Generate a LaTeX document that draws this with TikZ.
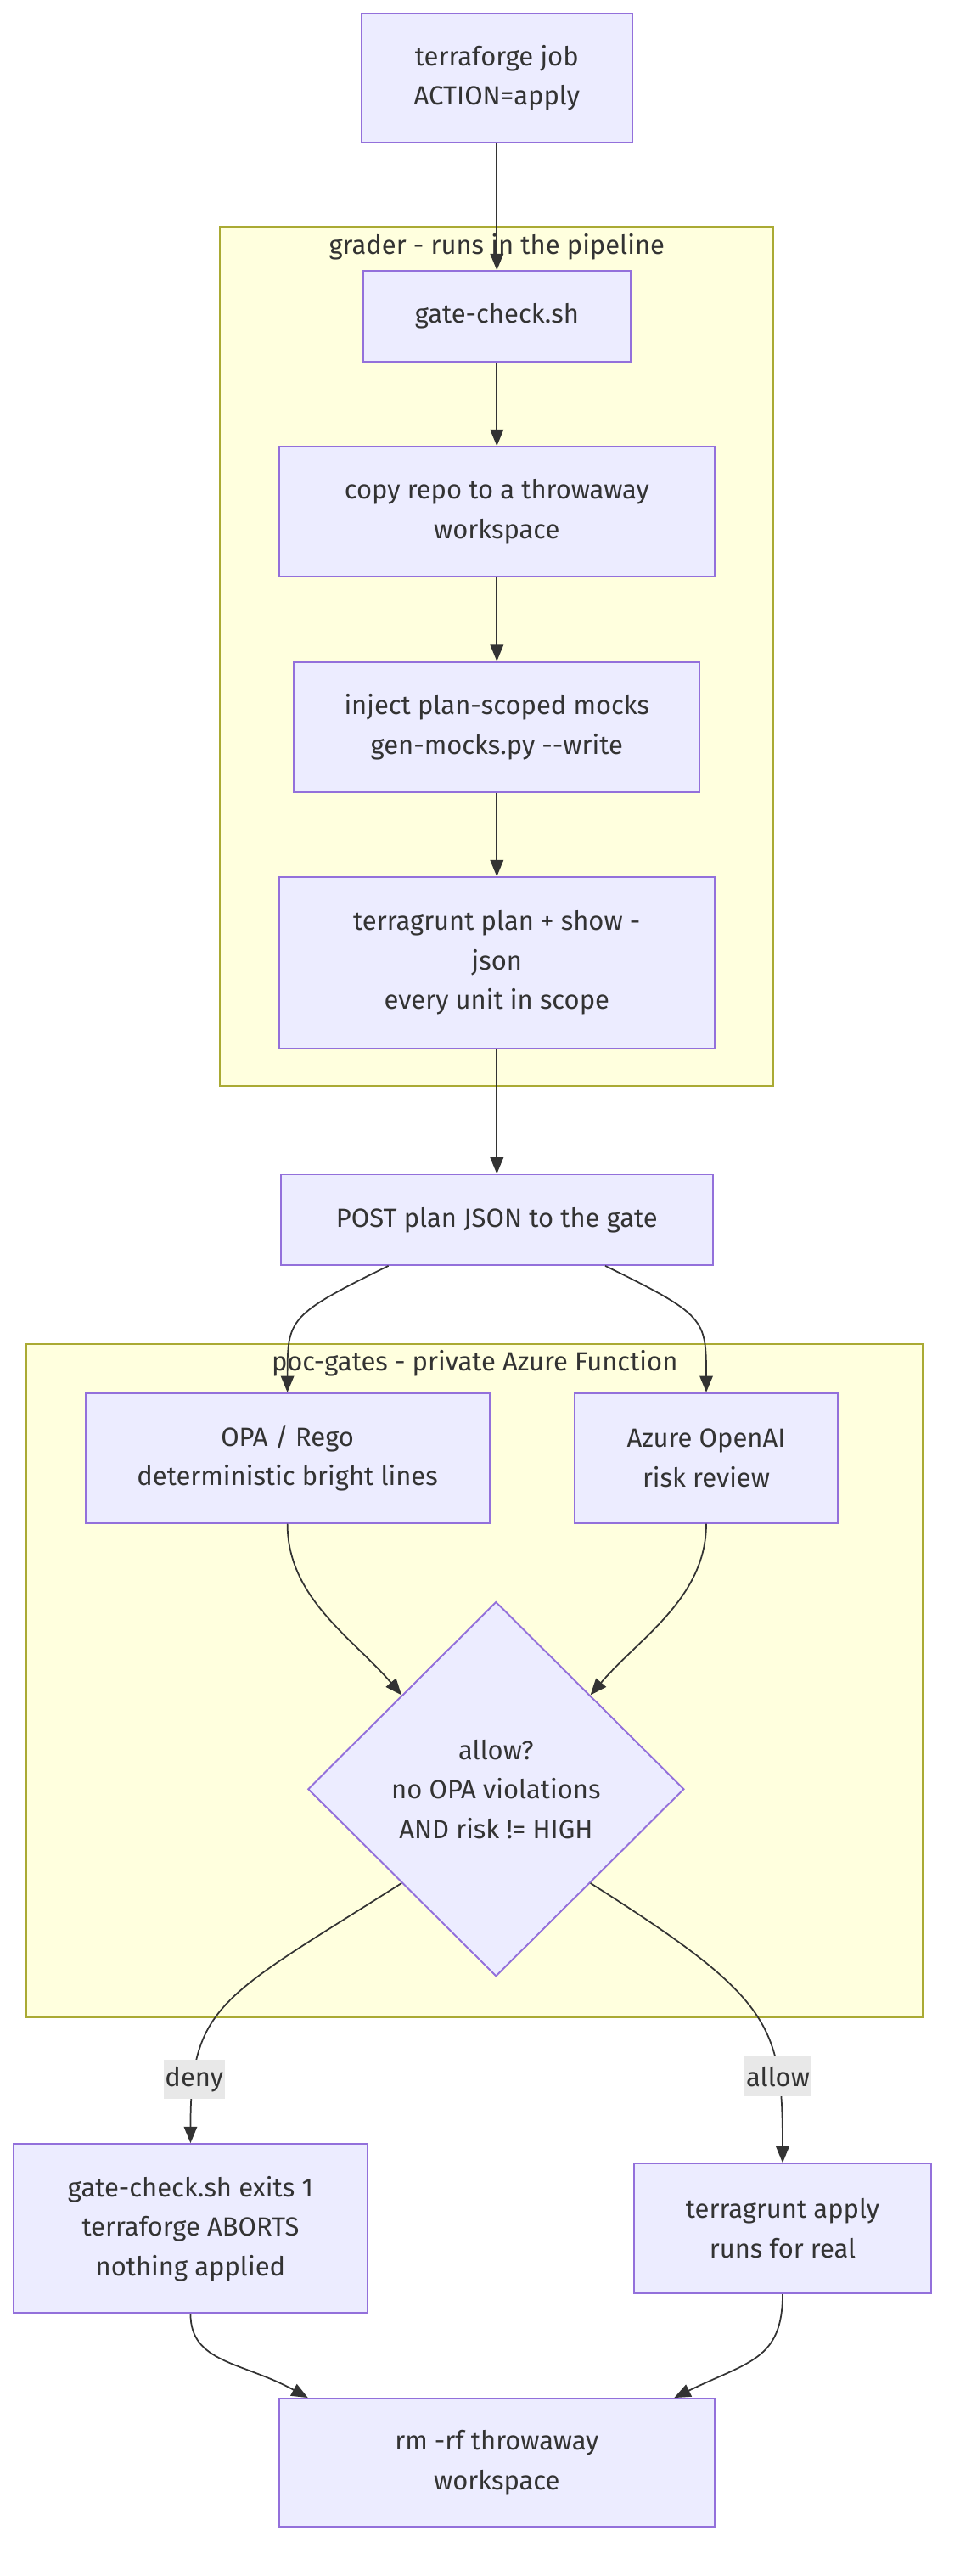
\documentclass[tikz,border=0pt]{standalone}
\usepackage{fontspec}
\setmainfont{Fira Sans}
\usetikzlibrary{positioning, arrows.meta, shapes.geometric, calc}

\definecolor{boxfill}{HTML}{ECECFF}
\definecolor{boxline}{HTML}{9370DB}
\definecolor{clusterfill}{HTML}{FFFFDE}
\definecolor{clusterline}{HTML}{AAAA33}
\definecolor{ink}{HTML}{333333}
\definecolor{lblfill}{HTML}{E8E8E8}

\begin{document}
\begin{tikzpicture}[x=1pt, y=1pt, >={Triangle[length=10pt, width=8pt]},
    font=\fontsize{16}{24}\selectfont, text=ink,
    box/.style={draw=boxline, fill=boxfill, line width=1pt, align=center, minimum height=79pt, inner sep=0pt},
    decide/.style={diamond, aspect=1, draw=boxline, fill=boxfill, line width=1pt, align=center, minimum width=229pt, minimum height=228pt, inner sep=0pt},
    cluster/.style={draw=clusterline, fill=clusterfill, line width=1pt},
    lbl/.style={fill=lblfill, inner xsep=1pt, inner ysep=0pt, minimum height=24pt},
    flow/.style={->, draw=ink, line width=0.9pt}]
    \useasboundingbox (0,0) rectangle (584,-1568);

    % the two subgraphs
    \draw[cluster] (134,-138) rectangle (471,-661);
    \node (gradertitle) at (302.5,-150) {grader - runs in the pipeline};
    \draw[cluster] (16,-818) rectangle (562,-1228);
    \node (pocttitle) at (289,-830) {poc-gates - private Azure Function};

    \node[box, minimum width=165pt] (job) at (302.5,-47.5) {terraforge job\\ACTION=apply};
    \node[box, minimum width=163pt, minimum height=55pt, below=77pt of job] (gate) {gate-check.sh};
    \node[box, minimum width=265pt, below=51pt of gate] (copy) {copy repo to a throwaway\\workspace};
    \node[box, minimum width=247pt, below=51pt of copy] (inject) {inject plan-scoped mocks\\gen-mocks.py -{}-write};
    \node[box, minimum width=265pt, minimum height=104pt, below=51pt of inject] (plan) {terragrunt plan + show -\\json\\every unit in scope};
    \node[box, minimum width=263pt, minimum height=55pt, below=76pt of plan] (post) {POST plan JSON to the gate};

    \node[box, minimum width=246pt, below=77pt of post, xshift=-127.5pt] (opa) {OPA / Rego\\deterministic bright lines};
    \node[box, minimum width=160pt, right=51pt of opa] (aoai) {Azure OpenAI\\risk review};
    \node[decide] (allow) at (302,-1089) {allow?\\no OPA violations\\AND risk != HIGH};

    \node[box, minimum width=216pt, minimum height=103pt] (deny) at (116,-1356.5) {gate-check.sh exits 1\\terraforge ABORTS\\nothing applied};
    \node[box, minimum width=181pt] (apply) at (476.5,-1356.5) {terragrunt apply\\runs for real};
    \node[box, minimum width=265pt, minimum height=78pt] (cleanup) at (302.5,-1499) {rm -rf throwaway\\workspace};

    \path (job) edge[flow] (gate)
          (gate) edge[flow] (copy)
          (copy) edge[flow] (inject)
          (inject) edge[flow] (plan)
          (plan) edge[flow] (post);

    \draw[flow] ($(post.south)+(-66,0)$) .. controls +(-61,-30) and +(0,45) .. (opa.north);
    \draw[flow] ($(post.south)+(66,0)$) .. controls +(61,-30) and +(0,45) .. (aoai.north);
    \draw[flow] (opa.south) .. controls +(0,-45) and +(-30,35) .. (allow.north west);
    \draw[flow] (aoai.south) .. controls +(0,-45) and +(30,35) .. (allow.north east);
    \draw[flow] (allow.south west) .. controls +(-110,-70) and +(0,85) .. (deny.north) node[lbl, pos=0.82] (denylbl) {deny};
    \draw[flow] (allow.south east) .. controls +(110,-70) and +(0,85) .. (apply.north) node[lbl, pos=0.75] (allowlbl) {allow};
    \draw[flow] (deny.south) .. controls +(0,-30) and +(-40,22) .. ($(cleanup.north)+(-115,0)$);
    \draw[flow] (apply.south) .. controls +(0,-40) and +(45,22) .. ($(cleanup.north)+(108,0)$);
\end{tikzpicture}
\end{document}
